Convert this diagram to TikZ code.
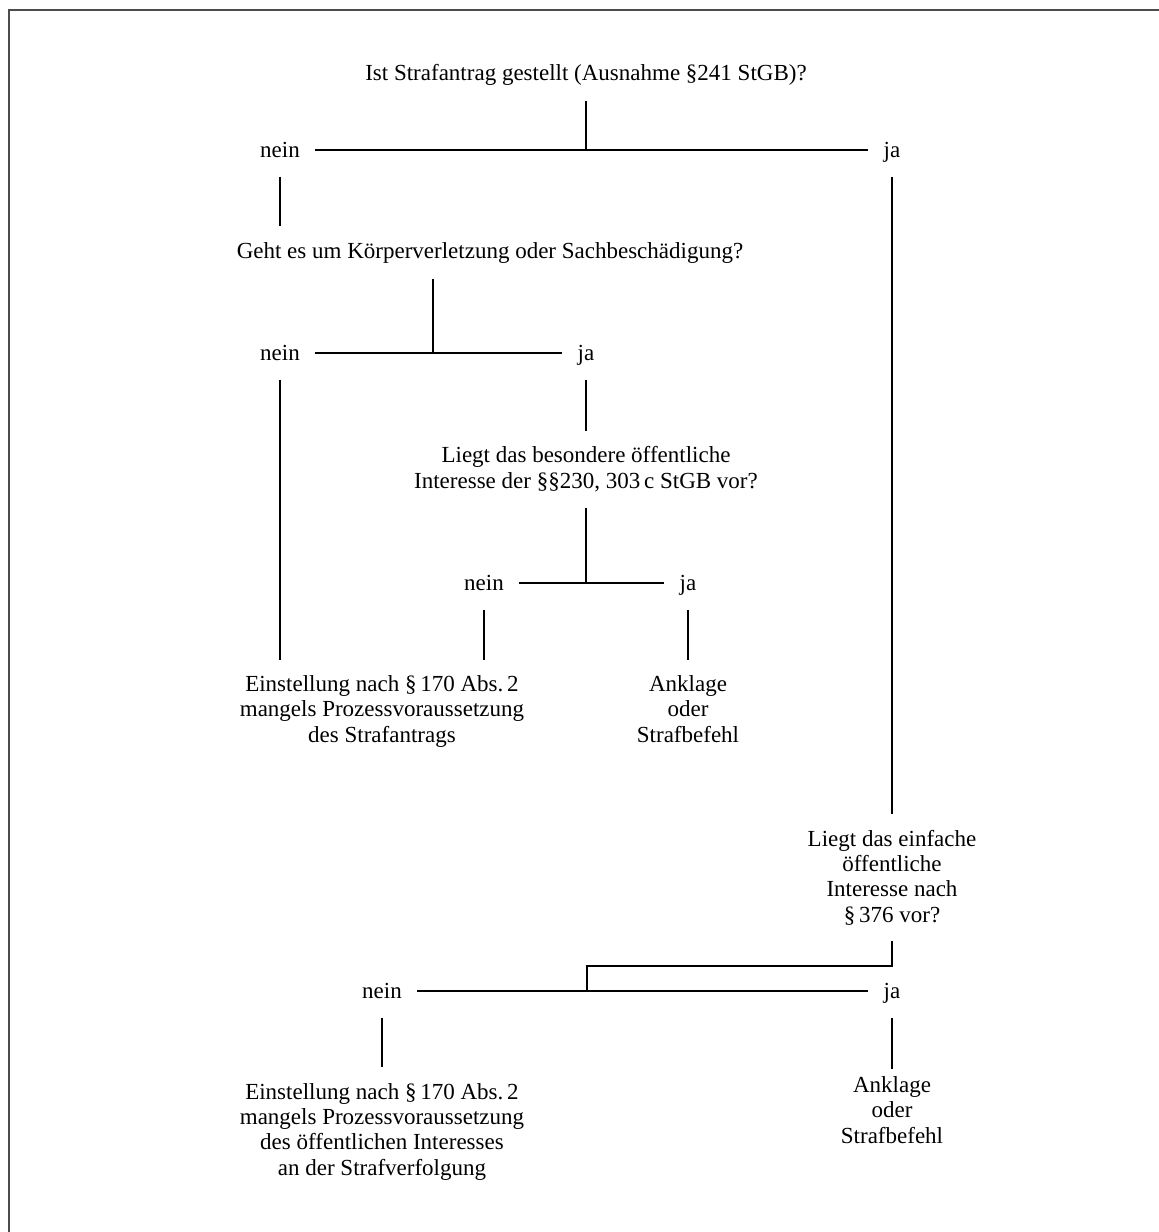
\documentclass[tikz,border=0pt]{standalone}
\usepackage{fontspec}
\setmainfont{Liberation Serif}
\usetikzlibrary{calc}

\begin{document}
\begin{tikzpicture}[
  x=0.5pt, y=-0.5pt,
  line width=0.55pt,
  every node/.style={font=\fontsize{11.5}{12.6}\selectfont, inner sep=0pt},
  frage/.style={align=center, anchor=base, outer ysep=8pt},
  antwort/.style={anchor=base, text height=9pt, text depth=2pt, inner xsep=7.5pt, inner ysep=7.5pt},
  rahmen/.style={draw=black!70, line width=0.6pt}
]
\useasboundingbox (0,0) rectangle (1159,1232);
\clip (0,0) rectangle (1159,1232);
\draw[rahmen] (9,10) rectangle (1200,1300);

% Strafantrag
\node[frage] (antrag) at (586,80) {Ist Strafantrag gestellt (Ausnahme §241 StGB)?};
\node[antwort] (nein1) at (280,157) {nein};
\node[antwort] (ja1) at (892,157) {ja};

\draw (antrag.south) -- (antrag.south |- nein1);
\draw (nein1) -- (ja1);

% relative Antragsdelikte
\node[frage] (art) at (490,258) {Geht es um Körperverletzung oder Sachbeschädigung?};
\node[antwort] (nein2) at (280,360) {nein};
\node[antwort] (ja2) at (586,360) {ja};
\coordinate (m2) at ($(nein2)!.5!(ja2)$);

\draw (nein1) -- (nein1 |- art.north);
\draw (m2 |- art.south) -- (m2);
\draw (nein2) -- (ja2);

% (base = Grundlinie der letzten Zeile)
\node[frage] (besonders) at (586,488) {Liegt das besondere öffentliche\\Interesse der §§230, 303\,c StGB vor?};
\node[antwort] (nein3) at (484,590) {nein};
\node[antwort] (ja3) at (688,590) {ja};

\draw (ja2) -- (besonders);
\draw (besonders) -- (besonders |- nein3);
\draw (nein3) -- (ja3);

\node[frage] (einst1) at (382,742) {Einstellung nach §\,170 Abs.\,2\\mangels Prozessvoraussetzung\\des Strafantrags};
\node[frage] (anklage1) at (688,742) {Anklage\\oder\\Strafbefehl};

\draw (nein2) -- (nein2 |- einst1.north);
\draw (nein3) -- (nein3 |- einst1.north);
\draw (ja3) -- (anklage1);

% Privatklagedelikte
\node[frage] (einfach) at (892,922) {Liegt das einfache\\öffentliche\\Interesse nach\\§\,376 vor?};
\node[antwort] (nein4) at (382,998) {nein};
\node[antwort] (ja4) at (892,998) {ja};
\coordinate (k4) at (587,966);

\draw (ja1) -- (einfach);
\draw (einfach.south) |- (k4) -- (k4 |- nein4);
\draw (nein4) -- (ja4);

\node[frage] (einst2) at (382,1175) {Einstellung nach §\,170 Abs.\,2\\mangels Prozessvoraussetzung\\des öffentlichen Interesses\\an der Strafverfolgung};
\node[frage, outer ysep=4pt] (anklage2) at (892,1143) {Anklage\\oder\\Strafbefehl};

\draw (nein4) -- (einst2);
\draw (ja4) -- (anklage2);
\end{tikzpicture}
\end{document}
